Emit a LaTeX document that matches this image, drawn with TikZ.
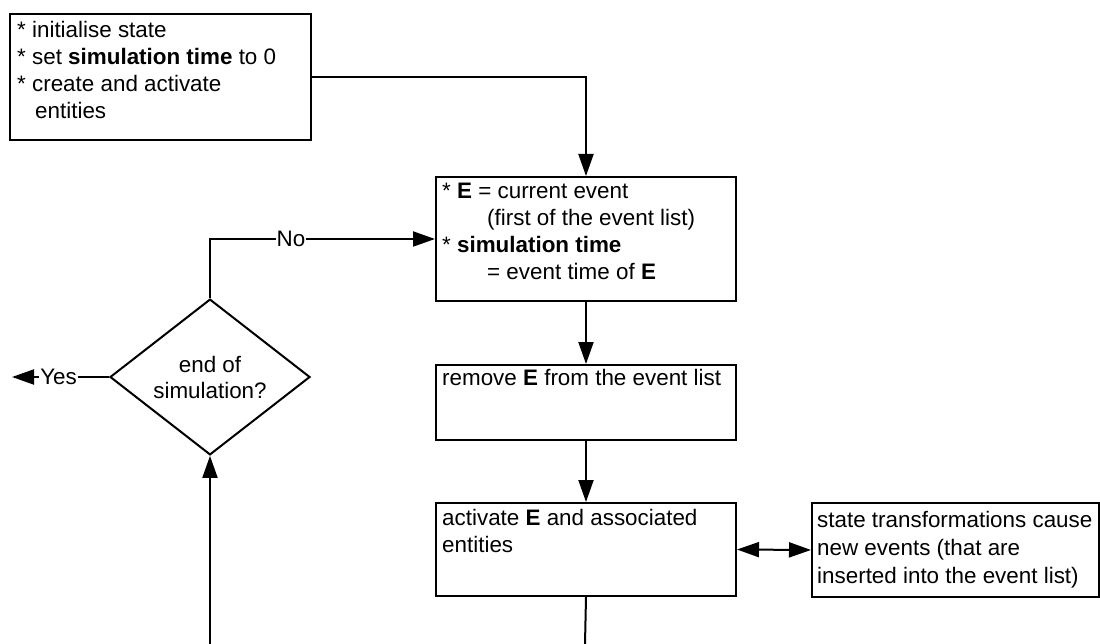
\documentclass[tikz,border=0pt]{standalone}
\usepackage{fontspec}
\setmainfont{Liberation Sans}
\usetikzlibrary{arrows.meta,shapes.geometric}
\begin{document}
\begin{tikzpicture}[x=1pt,y=-1pt,
  box/.style={draw, line width=2pt, anchor=north west, inner sep=0pt},
  txt/.style={anchor=north west, align=left, inner sep=0pt, font=\fontsize{22.4}{27}\selectfont},
  conn/.style={line width=2pt, -{Triangle[length=22pt,width=15pt]}},
  dbl/.style={line width=2pt, {Triangle[length=22pt,width=15pt]}-{Triangle[length=22pt,width=15pt]}},
  plain/.style={line width=2pt},
  lab/.style={fill=white, inner sep=1pt, font=\fontsize{22.4}{26}\selectfont}]
\useasboundingbox (0,0) rectangle (1100,644);

% boxes
\node[box, minimum width=301pt, minimum height=126pt] (b1) at (9,13) {};
\node[box, minimum width=300pt, minimum height=124pt] (b2) at (435,176) {};
\node[box, minimum width=300pt, minimum height=75pt] (b3) at (435,364) {};
\node[box, minimum width=300pt, minimum height=93pt] (b4) at (435,502) {};
\node[box, minimum width=287pt, minimum height=94pt] (b5) at (811,502) {};
\node[draw, diamond, line width=2pt, minimum width=200pt, minimum height=150pt, inner sep=0pt,
      align=center, font=\fontsize{22.4}{26}\selectfont] (d) at (210,377) {end of\\simulation?};

% texts
\node[txt] (t1) at (17,21.5) {* initialise state\\* set \textbf{simulation time} to 0\\* create and activate\\\hspace*{18pt}entities};
\node[txt] (t2) at (442,182.5) {* \textbf{E} = current event\\\hspace*{45pt}(first of the event list)\\* \textbf{simulation time}\\\hspace*{45pt}= event time of \textbf{E}};
\node[txt] (t3) at (442,369.5) {remove \textbf{E} from the event list};
\node[txt] (t4) at (442,509.5) {activate \textbf{E} and associated\\entities};
\node[txt, font=\fontsize{22.4}{28}\selectfont] (t5) at (817,511.5) {state transformations cause\\new events (that are\\inserted into the event list)};

% connectors
\coordinate (yesend) at (12,377);
\coordinate (bl) at (210,644);
\coordinate (br) at (585,644);
\draw[conn] (b1.east) -| (b2.north);
\draw[conn] (b2.south) -- (b3.north);
\draw[conn] (b3.south) -- (b4.north);
\draw[plain] (b4.south) -- (br);
\draw[dbl] (b4.east) -- (b5.west);
\draw[conn] (bl) -- (d.south);
\draw[conn] (d.north) |- (b2.west) node[lab, pos=0.68] (no) {No};
\draw[conn] (d.west) -- (yesend) node[lab, pos=0.52] (yes) {Yes};
\end{tikzpicture}
\end{document}
